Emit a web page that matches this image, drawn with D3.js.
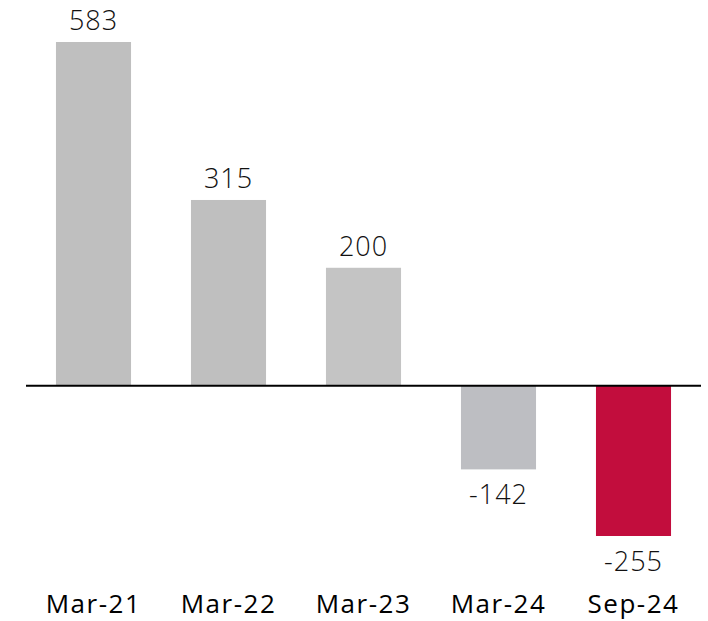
<!DOCTYPE html>
<html><head><meta charset="utf-8">
<script src="https://cdn.jsdelivr.net/npm/d3@7"></script>
<style>body{margin:0;background:#fff}</style>
</head><body>
<svg id="c" width="708" height="621"></svg>
<script>
const categories = ["Mar-21","Mar-22","Mar-23","Mar-24","Sep-24"];
const values = [583, 315, 200, -142, -255];
const colors = ["#bfbfbf","#bfbfbf","#c4c4c4","#bdbec2","#c20d3d"];

const svg = d3.select("#c");
const x = d3.scaleBand().domain(categories).range([26, 701]).paddingInner(0.444).paddingOuter(0.222);
const y = d3.scaleLinear().domain([-255, 583]).range([536, 42]);

svg.selectAll("rect.bar").data(values).join("rect")
  .attr("class","bar")
  .attr("x",(d,i)=>x(categories[i]))
  .attr("width",x.bandwidth())
  .attr("y",d=>y(Math.max(0,d)))
  .attr("height",d=>Math.abs(y(d)-y(0)))
  .attr("fill",(d,i)=>colors[i]);

svg.append("line").attr("x1",26).attr("x2",701).attr("y1",y(0)).attr("y2",y(0))
  .attr("stroke","#000").attr("stroke-width",2);

svg.selectAll("text.val").data(values).join("text")
  .attr("class","val")
  .attr("x",(d,i)=>x(categories[i])+x.bandwidth()/2)
  .attr("y",d=> d>=0 ? y(d)-12 : y(d)+35)
  .attr("text-anchor","middle")
  .attr("font-family","'Open Sans', sans-serif").attr("font-weight",300)
  .attr("font-size",27).attr("letter-spacing",1).attr("fill","#111")
  .text(d=>d);

const ax = svg.append("g").attr("transform","translate(0,613)")
  .call(d3.axisBottom(x).tickSize(0).tickPadding(0));
ax.select(".domain").remove();
ax.selectAll("text").attr("dy",0).attr("font-family","'Open Sans', sans-serif")
  .attr("font-size",26).attr("letter-spacing",1.5).attr("fill","#000");
</script>
</body></html>
